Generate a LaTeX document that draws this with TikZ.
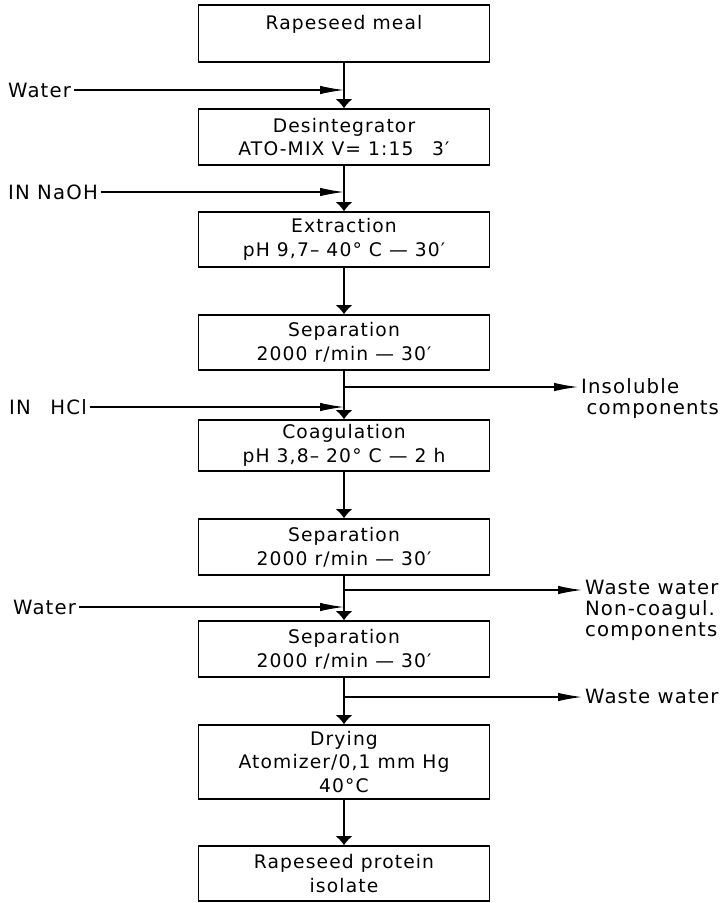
\documentclass[tikz,border=0pt]{standalone}
\usepackage{fontspec}
\setmainfont{DejaVu Sans}[LetterSpace=6.0]
\usetikzlibrary{arrows.meta, positioning}

\tikzset{
  stage/.style={draw, line width=1pt, minimum width=7.275cm, minimum height=1.4cm,
    align=center, inner sep=0pt, font=\fontsize{13.3}{17}\selectfont},
  feed/.style={inner sep=2pt, anchor=west, font=\fontsize{14}{15}\selectfont},
  outlet/.style={inner sep=2pt, align=left, font=\fontsize{14}{15}\selectfont},
  flow/.style={line width=0.9pt, -{Latex[length=6.5pt, width=12pt]}},
  side/.style={line width=0.9pt, -{Latex[length=17pt, width=6pt]}},
}

\begin{document}
\begin{tikzpicture}[x=0.025cm, y=-0.025cm]
        \useasboundingbox (0,0) rectangle (726,903);

        % Process stages
        \node[stage, minimum height=1.425cm] (meal) at (344,33.5) {Rapeseed meal\\[-7pt]\strut};
        \node[stage] (desint) at (344,137) {Desintegrator\\ATO-MIX V= 1:15\quad 3′};
        \node[stage, minimum height=1.375cm] (extract) at (344,239.5) {Extraction\\pH 9,7– 40° C — 30′};
        \node[stage, minimum height=1.375cm] (sepA) at (344,342.5) {Separation\\2000 r/min — 30′};
        \node[stage, minimum height=1.275cm] (coag) at (344,445.5) {Coagulation\\pH 3,8– 20° C — 2 h};
        \node[stage] (sepB) at (344,547) {Separation\\2000 r/min — 30′};
        \node[stage] (sepC) at (344,649) {Separation\\2000 r/min — 30′};
        \node[stage, minimum height=1.85cm] (dry) at (344,762) {Drying\\Atomizer/0,1 mm Hg\\40°C};
        \node[stage, minimum height=1.375cm] (isolate) at (344,873.5) {Rapeseed protein\\isolate};

        % Inputs
        \node[feed] (water1) at (5,90) {Water};
        \node[feed] (naoh) at (5,192) {IN NaOH};
        \node[feed] (hcl) at (6,407) {IN\quad HCl};
        \node[feed] (water2) at (10,607) {Water};

        % Outputs
        \node[outlet, anchor=north west] (insol) at (578,375) {Insoluble\\\hspace{4pt}components};
        \node[outlet, anchor=north west] (waste1) at (582,577) {Waste water\\Non-coagul.\\components};
        \node[outlet, anchor=west] (waste2) at (582,696) {Waste water};

        \coordinate (cut1) at (344,387);
        \coordinate (cut2) at (344,590);
        \coordinate (cut3) at (344,697);

        % Main flow
        \draw[flow] (meal) -- (desint);
        \draw[flow] (desint) -- (extract);
        \draw[flow] (extract) -- (sepA);
        \draw[flow] (sepA) -- (coag);
        \draw[flow] (coag) -- (sepB);
        \draw[flow] (sepB) -- (sepC);
        \draw[flow] (sepC) -- (dry);
        \draw[flow] (dry) -- (isolate);

        % Side streams
        \draw[side] (water1.east) -- (water1.east -| meal.south);
        \draw[side] (naoh.east) -- (naoh.east -| desint.south);
        \draw[side] (hcl.east) -- (hcl.east -| sepA.south);
        \draw[side] (water2.east) -- (water2.east -| sepB.south);
        \draw[side] (cut1) -- (cut1 -| insol.west);
        \draw[side] (cut2) -- (cut2 -| waste1.west);
        \draw[side] (cut3) -- (cut3 -| waste2.west);

\end{tikzpicture}
\end{document}
